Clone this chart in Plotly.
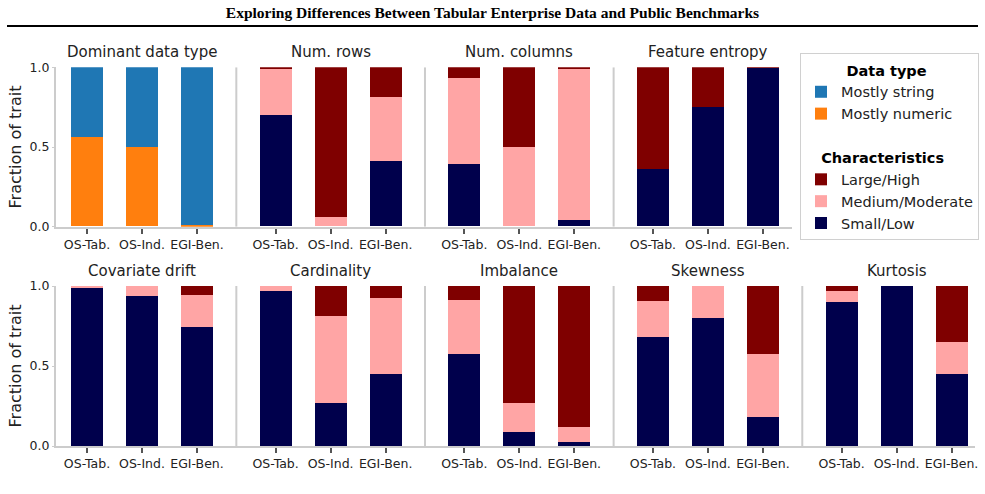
import plotly.graph_objects as go

# ---------------- data ----------------
categories = ["OS-Tab.", "OS-Ind.", "EGI-Ben."]

dtype_title = "Dominant data type"
dtype_numeric = [0.56, 0.50, 0.01]
dtype_string = [0.44, 0.50, 0.99]

top_traits = ["Num. rows", "Num. columns", "Feature entropy"]
top_small = [[0.70, 0.00, 0.41], [0.39, 0.00, 0.04], [0.36, 0.75, 0.995]]
top_medium = [[0.29, 0.06, 0.40], [0.54, 0.50, 0.95], [0.00, 0.00, 0.00]]
top_large = [[0.01, 0.94, 0.19], [0.07, 0.50, 0.01], [0.64, 0.25, 0.005]]

bottom_traits = ["Covariate drift", "Cardinality", "Imbalance", "Skewness", "Kurtosis"]
bottom_small = [[0.99, 0.94, 0.745], [0.97, 0.27, 0.45], [0.575, 0.09, 0.025], [0.68, 0.80, 0.18], [0.90, 1.00, 0.45]]
bottom_medium = [[0.01, 0.06, 0.20], [0.03, 0.54, 0.475], [0.335, 0.18, 0.095], [0.225, 0.20, 0.395], [0.07, 0.00, 0.20]]
bottom_large = [[0.00, 0.00, 0.055], [0.00, 0.19, 0.075], [0.09, 0.73, 0.88], [0.095, 0.00, 0.425], [0.03, 0.00, 0.35]]

y_ticks = [0.0, 0.5, 1.0]
y_ticktext = ["0.0", "0.5", "1.0"]

# ---------------- style ----------------
W, H = 985, 494
PITCH = 3.43      # group spacing in bar units
BAR_W = 0.58
C_STRING = "#1f77b4"
C_NUMERIC = "#ff7f0e"
C_LARGE = "#7f0000"
C_MED = "#ffa5a5"
C_SMALL = "#00004c"
SPINE = "#cccccc"
FONT = "DejaVu Sans"


def px_x(p):
    return p / W


def px_y(p):
    return 1 - p / H


def positions(g):
    return [g * PITCH + k for k in range(len(categories))]


fig = go.Figure()

# ---- top row: dominant data type ----
x0 = positions(0)
fig.add_trace(go.Bar(x=x0, y=dtype_numeric, name="Mostly numeric", marker_color=C_NUMERIC,
                     width=BAR_W, xaxis="x", yaxis="y", legendgroup="dtype",
                     legendgrouptitle_text="\u00a0\u00a0\u00a0\u00a0\u00a0\u00a0\u00a0\u00a0Data type",
                     legendrank=2))
fig.add_trace(go.Bar(x=x0, y=dtype_string, name="Mostly string", marker_color=C_STRING,
                     width=BAR_W, xaxis="x", yaxis="y", legendgroup="dtype", legendrank=1))

# ---- characteristic rows ----
def add_row(small, medium, large, g_offset, xa, ya, show):
    xs, s, m, l = [], [], [], []
    for i in range(len(small)):
        xs += positions(i + g_offset)
        s += small[i]
        m += medium[i]
        l += large[i]
    fig.add_trace(go.Bar(x=xs, y=s, name="Small/Low", marker_color=C_SMALL, width=BAR_W,
                         xaxis=xa, yaxis=ya, legendgroup="char", showlegend=show, legendrank=5,
                         legendgrouptitle_text="\u00a0\u00a0\u00a0Characteristics"))
    fig.add_trace(go.Bar(x=xs, y=m, name="Medium/Moderate", marker_color=C_MED, width=BAR_W,
                         xaxis=xa, yaxis=ya, legendgroup="char", showlegend=show, legendrank=4))
    fig.add_trace(go.Bar(x=xs, y=l, name="Large/High", marker_color=C_LARGE, width=BAR_W,
                         xaxis=xa, yaxis=ya, legendgroup="char", showlegend=show, legendrank=3))


add_row(top_small, top_medium, top_large, 1, "x", "y", True)
add_row(bottom_small, bottom_medium, bottom_large, 0, "x2", "y2", False)

for tr in fig.data:
    tr.marker.line.width = 0

# ---- axes ----
n_top = 1 + len(top_traits)
n_bot = len(bottom_traits)
top_tickvals = [v for g in range(n_top) for v in positions(g)]
bot_tickvals = [v for g in range(n_bot) for v in positions(g)]

left_px = 56
u0 = (left_px - 87) / 55.0
top_right_px, bot_right_px = 792, 975
u_top_end = (top_right_px - 87) / 55.0
u_bot_end = (bot_right_px - 87) / 55.0

xcommon = dict(showline=True, linecolor=SPINE, linewidth=2, showgrid=False, zeroline=False,
               ticks="outside", ticklen=5, tickwidth=1.5, tickcolor="#555555",
               tickfont=dict(family=FONT, size=12.5, color="#222222"), fixedrange=True,
               automargin=False)
ycommon = dict(range=[0, 1], tickvals=y_ticks, ticktext=y_ticktext, showline=True,
               linecolor=SPINE, linewidth=2, showgrid=False, zeroline=False,
               ticks="outside", ticklen=2, tickcolor=SPINE, tickwidth=1,
               tickfont=dict(family=FONT, size=12.5, color="#222222"),
               title=dict(text="Fraction of trait", font=dict(family=FONT, size=16, color="#222222"),
                          standoff=4), fixedrange=True, automargin=False)

fig.update_layout(
    xaxis=dict(xcommon, domain=[px_x(left_px), px_x(top_right_px)], range=[u0, u_top_end],
               tickvals=top_tickvals, ticktext=categories * n_top, anchor="y"),
    yaxis=dict(ycommon, domain=[px_y(226.7), px_y(67.3)], anchor="x"),
    xaxis2=dict(xcommon, domain=[px_x(left_px), px_x(bot_right_px)], range=[u0, u_bot_end],
                tickvals=bot_tickvals, ticktext=categories * n_bot, anchor="y2"),
    yaxis2=dict(ycommon, domain=[px_y(446), px_y(286)], anchor="x2"),
)

# ---- separators ----
shapes = []
for g in range(1, n_top):
    xs = g * PITCH - (PITCH - 2) / 2
    shapes.append(dict(type="line", xref="x", yref="y", x0=xs, x1=xs, y0=0, y1=1,
                       line=dict(color=SPINE, width=2)))
for g in range(1, n_bot):
    xs = g * PITCH - (PITCH - 2) / 2
    shapes.append(dict(type="line", xref="x2", yref="y2", x0=xs, x1=xs, y0=0, y1=1,
                       line=dict(color=SPINE, width=2)))
# title rule
shapes.append(dict(type="line", xref="paper", yref="paper", x0=px_x(7), x1=px_x(978),
                   y0=px_y(26), y1=px_y(26), line=dict(color="black", width=2)))

# ---- panel titles ----
annotations = []
top_titles = [dtype_title] + top_traits
for g, t in enumerate(top_titles):
    annotations.append(dict(text=t, x=g * PITCH + 1, xref="x", y=px_y(52), yref="paper",
                            showarrow=False, font=dict(family=FONT, size=15, color="#222222"),
                            xanchor="center", yanchor="middle"))
for g, t in enumerate(bottom_traits):
    annotations.append(dict(text=t, x=g * PITCH + 1, xref="x2", y=px_y(271), yref="paper",
                            showarrow=False, font=dict(family=FONT, size=15, color="#222222"),
                            xanchor="center", yanchor="middle"))

fig.update_layout(
    width=W, height=H,
    margin=dict(l=0, r=0, t=0, b=0, pad=0, autoexpand=False),
    paper_bgcolor="white", plot_bgcolor="white",
    barmode="stack", bargap=0,
    shapes=shapes, annotations=annotations,
    title=dict(text="<b>Exploring Differences Between Tabular Enterprise Data and Public Benchmarks</b>",
               x=0.5, xanchor="center", y=px_y(13), yanchor="middle", automargin=False,
               font=dict(family="Liberation Serif", size=15.5, color="black")),
    legend=dict(x=px_x(800), y=px_y(53), xanchor="left", yanchor="top",
                bgcolor="white", bordercolor="#d0d0d0", borderwidth=1,
                font=dict(family=FONT, size=14.5, color="#222222"),
                grouptitlefont=dict(family=FONT, size=14.5, color="black", weight="bold"),
                traceorder="grouped", tracegroupgap=22, itemwidth=30),
    showlegend=True,
)

fig.write_html("out.html")
